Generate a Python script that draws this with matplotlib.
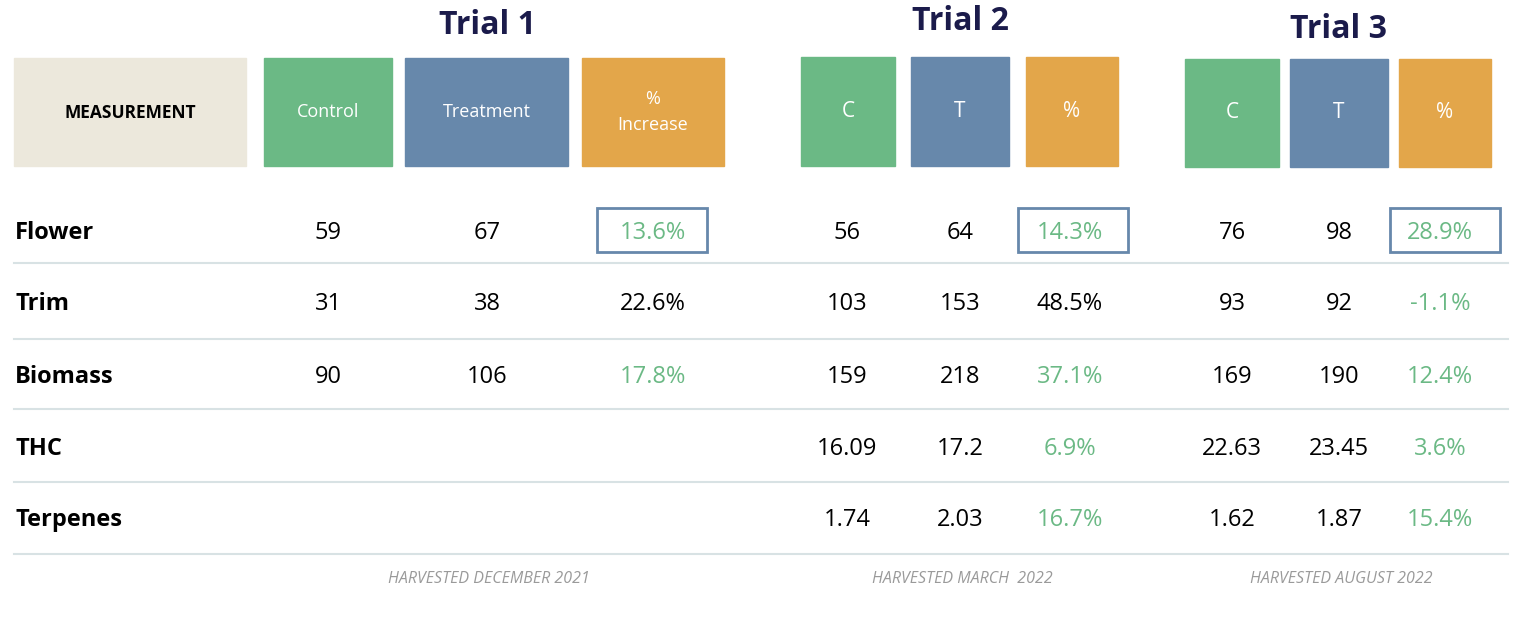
import matplotlib
matplotlib.use("Agg")
import matplotlib.pyplot as plt
from matplotlib.patches import Rectangle

measurements = ["Flower", "Trim", "Biomass", "THC", "Terpenes"]
trial_titles = ["Trial 1", "Trial 2", "Trial 3"]
header_labels = [["Control", "Treatment", "%\nIncrease"], ["C", "T", "%"], ["C", "T", "%"]]
trial1 = [["59", "67", "13.6%"], ["31", "38", "22.6%"], ["90", "106", "17.8%"], ["", "", ""], ["", "", ""]]
trial2 = [["56", "64", "14.3%"], ["103", "153", "48.5%"], ["159", "218", "37.1%"], ["16.09", "17.2", "6.9%"], ["1.74", "2.03", "16.7%"]]
trial3 = [["76", "98", "28.9%"], ["93", "92", "-1.1%"], ["169", "190", "12.4%"], ["22.63", "23.45", "3.6%"], ["1.62", "1.87", "15.4%"]]
black_pct = {(0, 1), (1, 1)}  # (trial, row) percentages shown in black
footers = ["HARVESTED DECEMBER 2021", "HARVESTED MARCH  2022", "HARVESTED AUGUST 2022"]

GREEN, BLUE, ORANGE, BEIGE, NAVY = "#6BB985", "#6788AB", "#E3A64A", "#ECE8DC", "#1B1B4B"
FONT = "Open Sans"

fig = plt.figure(figsize=(15.32, 6.18), dpi=100)
ax = fig.add_axes([0, 0, 1, 1])
ax.set_xlim(0, 1532); ax.set_ylim(618, 0); ax.axis("off")

# header boxes: (x0, x1, y0, y1)
boxes = [[(264, 392), (405, 568), (582, 724)],
         [(801, 895), (911, 1009), (1026, 1118)],
         [(1185, 1279), (1290, 1388), (1399, 1491)]]
box_y = [(58, 166), (57, 166), (59, 167)]
cols = [[328, 487, 653], [847, 960, 1070], [1232, 1339, 1440]]
title_pos = [(487, 25), (960, 22), (1339, 30)]
hl_boxes = [(597, 707), (1018, 1128), (1390, 1500)]
box_colors = [GREEN, BLUE, ORANGE]

ax.add_patch(Rectangle((14, 58), 232, 108, color=BEIGE))
ax.text(130, 113, "MEASUREMENT", ha="center", va="center", fontsize=12.5, fontweight="bold", family=FONT, color="black")

for t in range(3):
    ax.text(*title_pos[t], trial_titles[t], ha="center", va="center", fontsize=23, fontweight="bold", family=FONT, color=NAVY)
    y0, y1 = box_y[t]
    for c in range(3):
        x0, x1 = boxes[t][c]
        ax.add_patch(Rectangle((x0, y0), x1 - x0, y1 - y0, color=box_colors[c]))
        fs = 15 if t else 13
        ax.text((x0 + x1) / 2, (y0 + y1) / 2, header_labels[t][c], ha="center", va="center",
                fontsize=fs, family=FONT, color="white", linespacing=1.5)
    ax.text(cols[t][1] + 2, 579, footers[t], ha="center", va="center", fontsize=11.5,
            style="italic", family=FONT, color="#9A9A9A")

row_y = [233, 304, 377, 449, 520]
line_y = [263, 339, 409, 482, 554]
for r, name in enumerate(measurements):
    ax.text(15, row_y[r], name, ha="left", va="center", fontsize=17, fontweight="bold", family=FONT, color="black")
    ax.plot([14, 1508], [line_y[r], line_y[r]], color="#D8E2E4", lw=1.5)
    for t, data in enumerate([trial1, trial2, trial3]):
        for c in range(3):
            txt = data[r][c]
            color = "black"
            if c == 2 and (t, r) not in black_pct:
                color = GREEN
            ax.text(cols[t][c], row_y[r], txt, ha="center", va="center", fontsize=17, family=FONT, color=color)

for x0, x1 in hl_boxes:
    ax.add_patch(Rectangle((x0, 208), x1 - x0, 44, fill=False, edgecolor=BLUE, lw=2))

fig.savefig("out.png", dpi=100, facecolor="white")
